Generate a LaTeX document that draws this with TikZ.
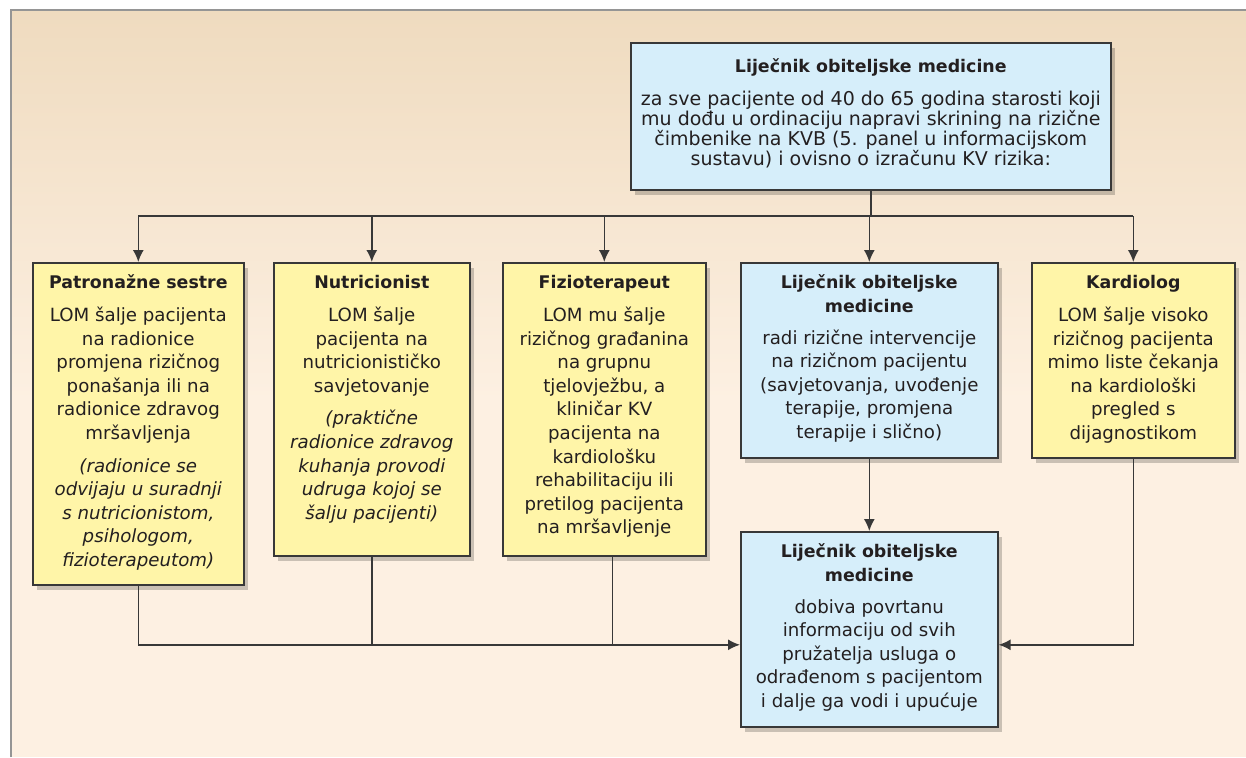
\documentclass[tikz,border=0pt]{standalone}
\usepackage{fontspec}
\setmainfont{DejaVu Sans}
\usetikzlibrary{arrows.meta,shadows}
\definecolor{okvirsivi}{HTML}{959595}
\definecolor{pozadinagore}{HTML}{EFDBBF}
\definecolor{pozadinadolje}{HTML}{FDF0E2}
\definecolor{lomplava}{HTML}{D6EEFA}
\definecolor{suradzuta}{HTML}{FFF5A8}
\definecolor{rub}{HTML}{383838}
\definecolor{tekst}{HTML}{231F20}
\newcommand{\naslov}[1]{{\fontsize{8.7pt}{11.8pt}\selectfont\bfseries #1}}

\begin{document}
\begin{tikzpicture}[x=0.5pt,y=-0.5pt,
    kutija/.style={draw=rub, line width=0.8pt, inner sep=0pt, anchor=north west, text=tekst,
      font=\fontsize{9.1pt}{11.8pt}\selectfont,
      drop shadow={shadow xshift=2pt, shadow yshift=-2.5pt, opacity=0.2, fill=black}},
    lomkutija/.style={kutija, fill=lomplava},
    zutakutija/.style={kutija, fill=suradzuta},
    veza/.style={draw=rub, line width=0.75pt},
    tok/.style={veza, -{Latex[length=6pt,width=5.5pt]}}]
  \useasboundingbox (0,0) rectangle (1246,757);
  % pozadina i okvir
  \shade[top color=pozadinagore, bottom color=pozadinadolje] (11,10) rectangle (1246,400);
  \fill[pozadinadolje] (11,399) rectangle (1246,757);
  \draw[okvirsivi, line width=1.25pt] (11,757) -- (11,10) -- (1246,10);

  % gornja kutija
  \node[lomkutija] (lomtop) at (630,42) {\parbox[t][73.5pt][t]{240pt}{\centering\fontsize{9.5pt}{10pt}\selectfont
    \rule{0pt}{15pt}\naslov{Liječnik obiteljske medicine}\\[6.5pt]
    za sve pacijente od 40 do 65 godina starosti koji\\
    mu dođu u ordinaciju napravi skrining na rizične\\
    čimbenike na KVB (5. panel u informacijskom\\
    sustavu) i ovisno o izračunu KV rizika:}};

  % pet kutija u redu
  \node[zutakutija] (patronaza) at (32,262) {\parbox[t][161pt][t]{105.5pt}{\centering
    \rule{0pt}{13pt}\naslov{Patronažne sestre}\\[4.5pt]
    LOM šalje pacijenta\\ na radionice\\ promjena rizičnog\\ ponašanja ili na\\
    radionice zdravog\\ mršavljenja\\[4.5pt]
    \itshape (radionice se\\ odvijaju u suradnji\\ s nutricionistom,\\ psihologom,\\ fizioterapeutom)}};
  \node[zutakutija] (nutric) at (273,262) {\parbox[t][146.5pt][t]{98pt}{\centering
    \rule{0pt}{13pt}\naslov{Nutricionist}\\[4.5pt]
    LOM šalje\\ pacijenta na\\ nutricionističko\\ savjetovanje\\[4.5pt]
    \itshape (praktične\\ radionice zdravog\\ kuhanja provodi\\ udruga kojoj se\\ šalju pacijenti)}};
  \node[zutakutija] (fizio) at (502,262) {\parbox[t][146.5pt][t]{101.5pt}{\centering
    \rule{0pt}{13pt}\naslov{Fizioterapeut}\\[4.5pt]
    LOM mu šalje\\ rizičnog građanina\\ na grupnu\\ tjelovježbu, a\\ kliničar KV\\
    pacijenta na\\ kardiološku\\ rehabilitaciju ili\\ pretilog pacijenta\\ na mršavljenje}};
  \node[lomkutija] (lomint) at (740,262) {\parbox[t][97.5pt][t]{128.5pt}{\centering
    \rule{0pt}{13pt}\naslov{Liječnik obiteljske}\\ \naslov{medicine}\\[4pt]
    radi rizične intervencije\\ na rizičnom pacijentu\\ (savjetovanja, uvođenje\\
    terapije, promjena\\ terapije i slično)}};
  \node[zutakutija] (kardio) at (1031,262) {\parbox[t][97.5pt][t]{101.5pt}{\centering
    \rule{0pt}{13pt}\naslov{Kardiolog}\\[4.5pt]
    LOM šalje visoko\\ rizičnog pacijenta\\ mimo liste čekanja\\ na kardiološki\\
    pregled s\\ dijagnostikom}};

  % donja kutija
  \node[lomkutija] (lomfin) at (740,531) {\parbox[t][97.5pt][t]{128.5pt}{\centering
    \rule{0pt}{13pt}\naslov{Liječnik obiteljske}\\ \naslov{medicine}\\[4pt]
    dobiva povrtanu\\ informaciju od svih\\ pružatelja usluga o\\
    odrađenom s pacijentom\\ i dalje ga vodi i upućuje}};

  % veze
  \coordinate (razvod) at (lomtop.south |- 0,216);
  \draw[veza] (lomtop.south) -- (razvod);
  \draw[veza] (patronaza.north |- razvod) -- (kardio.north |- razvod);
  \foreach \cilj in {patronaza,nutric,fizio,lomint,kardio}
    \draw[tok] (\cilj.north |- razvod) -- (\cilj.north);
  \draw[tok] (lomint.south) -- (lomfin.north);
  \coordinate (ulazL) at ([yshift=-7.75pt]lomfin.west);
  \coordinate (ulazD) at ([yshift=-7.75pt]lomfin.east);
  \draw[tok] (patronaza.south) |- (ulazL);
  \draw[veza] (nutric.south) -- (nutric.south |- ulazL);
  \draw[veza] ([xshift=4pt]fizio.south) -- ([xshift=4pt]fizio.south |- ulazL);
  \draw[tok] (kardio.south) |- (ulazD);
\end{tikzpicture}
\end{document}
